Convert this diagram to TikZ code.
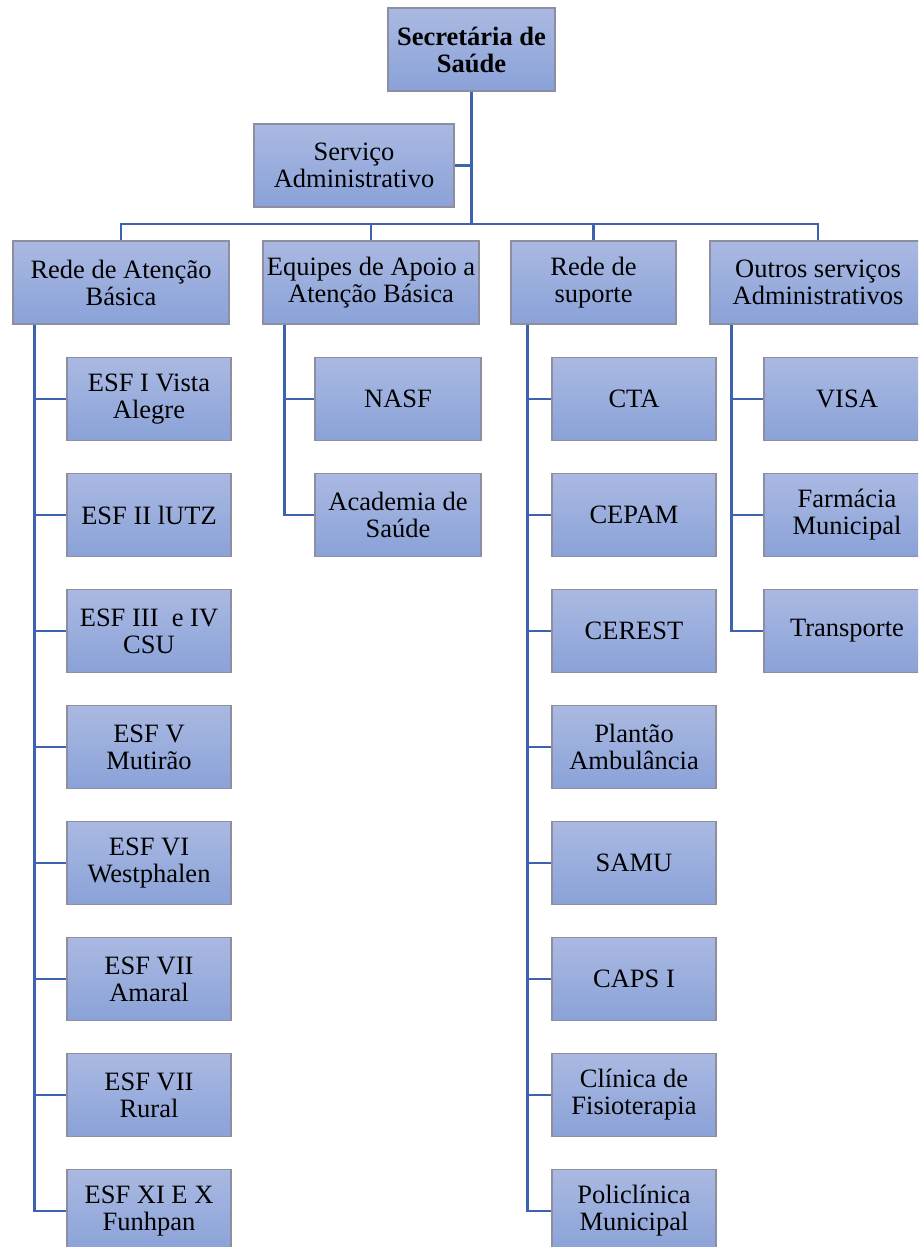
\documentclass[tikz,border=0pt]{standalone}
\usepackage{fontspec}
\setmainfont{Liberation Serif}
\definecolor{boxtop}{HTML}{AAB9E2}
\definecolor{boxbot}{HTML}{8AA2D8}
\definecolor{boxedge}{HTML}{8E8E9E}
\definecolor{linkblue}{HTML}{3E63AE}
\tikzset{
  orgbox/.style={draw=boxedge, line width=1.5pt, top color=boxtop, bottom color=boxbot,
    minimum height=83pt, inner sep=0pt, align=center,
    font=\fontsize{26.5}{27}\selectfont},
  link/.style={draw=linkblue, line width=2.8pt},
}
\begin{document}
\begin{tikzpicture}[x=1pt,y=-1pt]
\clip (0,0) rectangle (918,1247);
\fill[white] (0,0) rectangle (918,1247);
% top
\node[orgbox, minimum width=167pt, font=\fontsize{26.5}{27}\selectfont\bfseries] (sec) at (471.5,49.5) {Secretária de\\Saúde};
\node[orgbox, minimum width=200pt] (serv) at (354,165.5) {Serviço\\Administrativo};
% level 2
\node[orgbox, minimum width=216pt] (rab) at (121,282.5) {Rede de Atenção\\Básica};
\node[orgbox, minimum width=216pt] (eq) at (371,282.5) {Equipes de Apoio a\\Atenção Básica};
\node[orgbox, minimum width=165pt] (rs) at (593.5,282.5) {Rede de\\suporte};
\node[orgbox, minimum width=216pt] (out) at (818,282.5) {Outros serviços\\Administrativos};
% Rede de Atenção Básica children
\node[orgbox, minimum width=164pt] (a1) at (149,399) {ESF I Vista\\Alegre};
\node[orgbox, minimum width=164pt] (a2) at (149,515) {ESF II lUTZ};
\node[orgbox, minimum width=164pt] (a3) at (149,631) {ESF III\hspace{0.25em} e IV\\CSU};
\node[orgbox, minimum width=164pt] (a4) at (149,747) {ESF V\\Mutirão};
\node[orgbox, minimum width=164pt] (a5) at (149,863) {ESF VI\\Westphalen};
\node[orgbox, minimum width=164pt] (a6) at (149,979) {ESF VII\\Amaral};
\node[orgbox, minimum width=164pt] (a7) at (149,1095) {ESF VII\\Rural};
\node[orgbox, minimum width=164pt] (a8) at (149,1211) {ESF XI E X\\Funhpan};
% Equipes children
\node[orgbox, minimum width=166pt] (e1) at (398,399) {NASF};
\node[orgbox, minimum width=166pt] (e2) at (398,515) {Academia de\\Saúde};
% Rede de suporte children
\node[orgbox, minimum width=164pt] (s1) at (634,399) {CTA};
\node[orgbox, minimum width=164pt] (s2) at (634,515) {CEPAM};
\node[orgbox, minimum width=164pt] (s3) at (634,631) {CEREST};
\node[orgbox, minimum width=164pt] (s4) at (634,747) {Plantão\\Ambulância};
\node[orgbox, minimum width=164pt] (s5) at (634,863) {SAMU};
\node[orgbox, minimum width=164pt] (s6) at (634,979) {CAPS I};
\node[orgbox, minimum width=164pt] (s7) at (634,1095) {Clínica de\\Fisioterapia};
\node[orgbox, minimum width=164pt] (s8) at (634,1211) {Policlínica\\Municipal};
% Outros children
\node[orgbox, minimum width=166pt] (o1) at (847,399) {VISA};
\node[orgbox, minimum width=166pt] (o2) at (847,515) {Farmácia\\Municipal};
\node[orgbox, minimum width=166pt] (o3) at (847,631) {Transporte};
% connectors
\coordinate (bus) at (471.5,224);
\draw[link] (sec.south) -- (bus);
\draw[link] (serv.east) -- (serv.east -| sec.south);
\draw[link] (rab.north) |- (bus) -| (out.north);
\draw[link] (eq.north) -- (eq.north |- bus);
\draw[link] (rs.north) -- (rs.north |- bus);
% vertical spines
\coordinate (rabv) at ([xshift=22pt]rab.south west);
\coordinate (eqv) at ([xshift=22pt]eq.south west);
\coordinate (rsv) at ([xshift=17pt]rs.south west);
\coordinate (outv) at ([xshift=22pt]out.south west);
\foreach \c in {a1,a2,a3,a4,a5,a6,a7,a8} \draw[link] (rabv) |- (\c.west);
\foreach \c in {e1,e2} \draw[link] (eqv) |- (\c.west);
\foreach \c in {s1,s2,s3,s4,s5,s6,s7,s8} \draw[link] (rsv) |- (\c.west);
\foreach \c in {o1,o2,o3} \draw[link] (outv) |- (\c.west);
\end{tikzpicture}
\end{document}
